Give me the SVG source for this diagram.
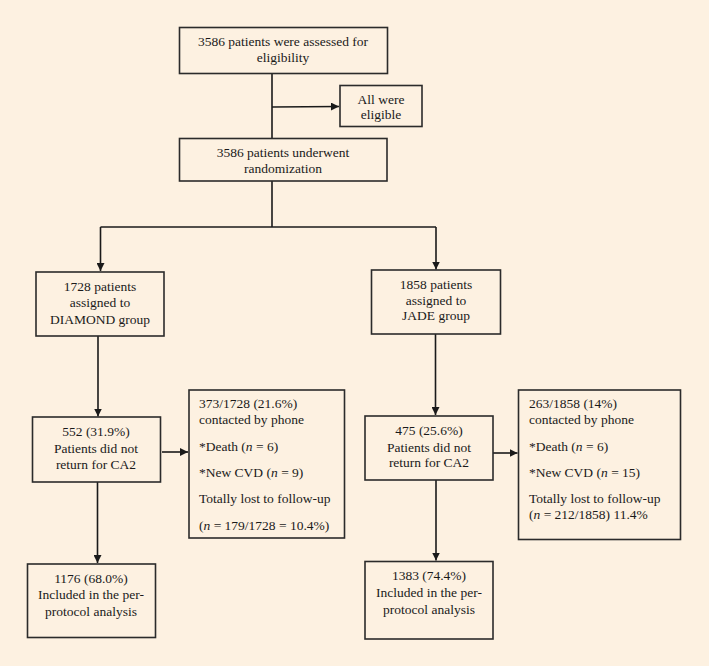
<svg xmlns="http://www.w3.org/2000/svg" width="709" height="666" viewBox="0 0 709 666">
<defs>
<style>
.bg{fill:#fdf1e1}
.box{fill:none;stroke:#2b2b2b;stroke-width:1.6}
.ln{fill:none;stroke:#1a1a1a;stroke-width:1.6}
text{font-family:"Liberation Serif","Times New Roman",serif;font-size:13.5px;fill:#1a1a1a}
.c{text-anchor:middle}
</style>
<marker id="ah" viewBox="0 0 10 10" refX="10" refY="5" markerWidth="5" markerHeight="5" orient="auto" markerUnits="strokeWidth">
<path d="M0,0 L10,5 L0,10 z" fill="#1a1a1a"/>
</marker>
</defs>
<rect class="bg" x="0" y="0" width="709" height="666"/>
<g id="connectors">
<line class="ln" x1="272" y1="73" x2="272" y2="138"/>
<line class="ln" x1="272" y1="107" x2="339" y2="106.5" marker-end="url(#ah)"/>
<line class="ln" x1="272" y1="181" x2="272" y2="227"/>
<line class="ln" x1="100.5" y1="227" x2="436" y2="227"/>
<line class="ln" x1="100.5" y1="227" x2="100.5" y2="271" marker-end="url(#ah)"/>
<line class="ln" x1="436" y1="227" x2="436" y2="269.5" marker-end="url(#ah)"/>
<line class="ln" x1="98" y1="336" x2="98" y2="416.5" marker-end="url(#ah)"/>
<line class="ln" x1="162" y1="452" x2="188" y2="452" marker-end="url(#ah)"/>
<line class="ln" x1="97.5" y1="482" x2="97.5" y2="563" marker-end="url(#ah)"/>
<line class="ln" x1="435.5" y1="334" x2="435.5" y2="415" marker-end="url(#ah)"/>
<line class="ln" x1="493" y1="453" x2="517.5" y2="453" marker-end="url(#ah)"/>
<line class="ln" x1="436" y1="480" x2="436" y2="560.5" marker-end="url(#ah)"/>
</g>
<g id="assessed">
<rect class="box" x="179.5" y="27.5" width="208" height="46"/>
<text class="c" x="283" y="46">3586 patients were assessed for</text>
<text class="c" x="283" y="62">eligibility</text>
</g>
<g id="eligible">
<rect class="box" x="340" y="85.5" width="82" height="41"/>
<text class="c" x="381" y="104">All were</text>
<text class="c" x="381" y="119">eligible</text>
</g>
<g id="randomization">
<rect class="box" x="179.5" y="138.5" width="207.5" height="42.5"/>
<text class="c" x="283" y="157">3586 patients underwent</text>
<text class="c" x="283" y="173">randomization</text>
</g>
<g id="diamond">
<rect class="box" x="36" y="272" width="128" height="64"/>
<text class="c" x="100" y="291">1728 patients</text>
<text class="c" x="100" y="307">assigned to</text>
<text class="c" x="100" y="324">DIAMOND group</text>
</g>
<g id="jade">
<rect class="box" x="371.5" y="270" width="129" height="64"/>
<text class="c" x="436" y="289">1858 patients</text>
<text class="c" x="436" y="304.5">assigned to</text>
<text class="c" x="436" y="320">JADE group</text>
</g>
<g id="diamond-notreturn">
<rect class="box" x="32.5" y="417" width="128" height="65"/>
<text class="c" x="96" y="436">552 (31.9%)</text>
<text class="c" x="96" y="452.5">Patients did not</text>
<text class="c" x="96" y="469">return for CA2</text>
</g>
<g id="diamond-phone">
<rect class="box" x="189" y="390" width="155.5" height="148"/>
<text x="199" y="408">373/1728 (21.6%)</text>
<text x="199" y="424">contacted by phone</text>
<text x="199" y="450.5">*Death (<tspan font-style="italic">n</tspan> = 6)</text>
<text x="199" y="477">*New CVD (<tspan font-style="italic">n</tspan> = 9)</text>
<text x="199" y="503">Totally lost to follow-up</text>
<text x="199" y="530">(<tspan font-style="italic">n</tspan> = 179/1728 = 10.4%)</text>
</g>
<g id="jade-notreturn">
<rect class="box" x="365" y="416" width="128" height="64"/>
<text class="c" x="429" y="435">475 (25.6%)</text>
<text class="c" x="429" y="451.5">Patients did not</text>
<text class="c" x="429" y="467">return for CA2</text>
</g>
<g id="jade-phone">
<rect class="box" x="518.5" y="390" width="162" height="149.5"/>
<text x="529" y="408">263/1858 (14%)</text>
<text x="529" y="424">contacted by phone</text>
<text x="529" y="450.5">*Death (<tspan font-style="italic">n</tspan> = 6)</text>
<text x="529" y="476.5">*New CVD (<tspan font-style="italic">n</tspan> = 15)</text>
<text x="529" y="502.5">Totally lost to follow-up</text>
<text x="529" y="519">(<tspan font-style="italic">n</tspan> = 212/1858) 11.4%</text>
</g>
<g id="diamond-included">
<rect class="box" x="27.5" y="564" width="128" height="73.5"/>
<text class="c" x="91" y="583">1176 (68.0%)</text>
<text class="c" x="91" y="599">Included in the per-</text>
<text class="c" x="91" y="616">protocol analysis</text>
</g>
<g id="jade-included">
<rect class="box" x="365" y="561.5" width="128" height="77.5"/>
<text class="c" x="429" y="580">1383 (74.4%)</text>
<text class="c" x="429" y="597">Included in the per-</text>
<text class="c" x="429" y="614">protocol analysis</text>
</g>
</svg>
